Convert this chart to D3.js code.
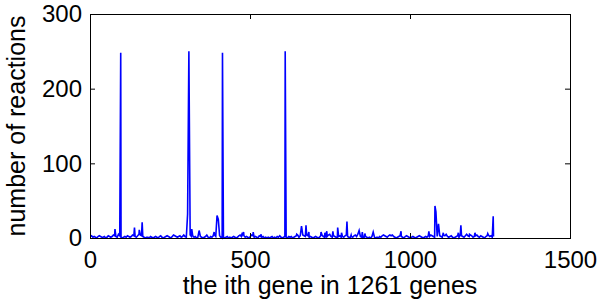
<!DOCTYPE html>
<html>
<head>
<meta charset="utf-8">
<script src="https://cdn.jsdelivr.net/npm/d3@7"></script>
<style>
  html, body { margin: 0; padding: 0; background: #fff; }
  #chart { width: 600px; height: 306px; }
</style>
</head>
<body>
<div id="chart"></div>
<script>
// Axis ticks
const xTicks = [0, 500, 1000, 1500];
const yTicks = [0, 100, 200, 300];

// Background level, one reading every 4th gene (genes 1, 5, 9, ... 1261)
const baseStep = 4;
const baseCounts = [
    2,3,1,2,1,0,2,3,2,1,1,2,0,1,3,2,1,2,4,3,
    2,1,5,3,1,0,1,2,1,3,2,1,2,4,3,2,1,3,5,4,
    3,2,1,0,1,1,0,2,1,0,1,2,1,0,2,3,1,0,1,2,
    3,2,1,0,2,4,3,2,1,2,3,1,2,4,2,1,3,5,4,2,
    3,1,2,0,1,3,2,1,0,1,2,4,1,0,2,1,3,4,2,5,
    6,3,1,0,1,0,1,2,0,1,0,1,2,1,0,1,3,4,2,5,
    3,1,2,1,0,2,4,3,1,2,1,0,3,2,1,2,0,1,0,1,
    0,1,2,0,1,0,2,1,3,1,0,1,2,1,0,2,1,2,0,1,
    2,3,4,1,3,5,4,3,2,4,3,1,2,1,0,1,2,1,0,1,
    3,4,2,1,3,2,4,5,2,1,3,2,1,0,2,3,1,2,1,3,
    4,2,1,0,2,1,3,4,2,5,3,2,1,0,1,2,1,0,1,0,
    2,3,1,0,1,0,2,1,3,4,3,2,1,3,4,3,4,2,1,0,
    1,2,3,2,1,0,2,3,2,1,0,1,2,1,0,1,2,3,2,1,
    0,1,2,1,3,2,4,3,2,1,3,2,4,3,2,1,4,3,5,2,
    1,2,3,1,0,1,2,3,1,4,3,2,1,3,5,3,2,4,3,1,
    2,3,4,2,1,3,2,1,0,2,3,4,2,3,1,2
];

// Peaks
const peakGenes  = [78, 96, 139, 154, 163, 305, 309, 318, 341, 388, 397, 401, 414, 476, 480, 510, 534,
                    610, 646, 661, 675, 684, 722, 734, 740, 759, 774, 786, 803, 816, 841, 851, 859, 885,
                    972, 1059, 1078, 1081, 1089, 1104, 1151, 1159, 1186, 1203, 1243, 1260];
const peakCounts = [12, 248, 14, 11, 21, 32, 250, 12, 10, 8, 30, 25, 248, 7, 8, 8, 5,
                    250, 5, 16, 17, 8, 8, 7, 9, 9, 14, 7, 22, 4, 10, 8, 6, 8,
                    9, 9, 43, 35, 19, 7, 7, 17, 5, 7, 6, 29];

// Merge into one series, peaks override
const byGene = new Map();
baseCounts.forEach((v, i) => byGene.set(1 + i * baseStep, v));
peakGenes.forEach((g, i) => byGene.set(g, peakCounts[i]));
const data = Array.from(byGene, ([gene, count]) => ({ gene, count }))
    .sort((a, b) => a.gene - b.gene);

const W = 600, H = 306;
const margin = { top: 14, right: 30, bottom: 68, left: 90 };
const width = W - margin.left - margin.right;
const height = H - margin.top - margin.bottom;

const font = '"Liberation Sans", Arial, Helvetica, sans-serif';

const svg = d3.select('#chart')
    .append('svg')
    .attr('width', W)
    .attr('height', H)
    .style('background', '#fff');

const g = svg.append('g')
    .attr('transform', `translate(${margin.left},${margin.top})`);

const x = d3.scaleLinear().domain([0, 1500]).range([0, width]);
const y = d3.scaleLinear().domain([0, 300]).range([height, 0]);

// Data line
const line = d3.line()
    .x(d => x(d.gene))
    .y(d => y(d.count));

g.append('path')
    .datum(data)
    .attr('fill', 'none')
    .attr('stroke', '#0000ff')
    .attr('stroke-width', 1.6)
    .attr('stroke-linejoin', 'miter')
    .attr('d', line);

// Axes, MATLAB style: ticks inside, box around
const tickLen = 5;
const fmt = d3.format('d');

const xAxis = g.append('g')
    .attr('transform', `translate(0,${height})`)
    .call(d3.axisBottom(x).tickValues(xTicks).tickFormat(fmt)
        .tickSize(-tickLen).tickSizeOuter(0).tickPadding(13));

const yAxis = g.append('g')
    .call(d3.axisLeft(y).tickValues(yTicks).tickFormat(fmt)
        .tickSize(-tickLen).tickSizeOuter(0).tickPadding(8));

g.append('g')
    .call(d3.axisTop(x).tickValues(xTicks).tickSize(-tickLen).tickSizeOuter(0).tickFormat(''));
g.append('g')
    .attr('transform', `translate(${width},0)`)
    .call(d3.axisRight(y).tickValues(yTicks).tickSize(-tickLen).tickSizeOuter(0).tickFormat(''));

g.selectAll('.domain').remove();
g.selectAll('.tick line').attr('stroke', '#000');

[xAxis, yAxis].forEach(a => a.selectAll('text')
    .attr('fill', '#000')
    .style('font-family', font)
    .style('font-size', '24px'));

g.append('rect')
    .attr('x', 0.5)
    .attr('y', 0.5)
    .attr('width', width)
    .attr('height', height)
    .attr('fill', 'none')
    .attr('stroke', '#000')
    .attr('stroke-width', 1);

// Axis labels
svg.append('text')
    .attr('x', margin.left + width / 2)
    .attr('y', 294)
    .attr('text-anchor', 'middle')
    .style('font-family', font)
    .style('font-size', '25px')
    .text('the ith gene in 1261 genes');

svg.append('text')
    .attr('transform', `translate(25,${margin.top + height / 2}) rotate(-90)`)
    .attr('text-anchor', 'middle')
    .style('font-family', font)
    .style('font-size', '25px')
    .text('number of reactions');
</script>
</body>
</html>
